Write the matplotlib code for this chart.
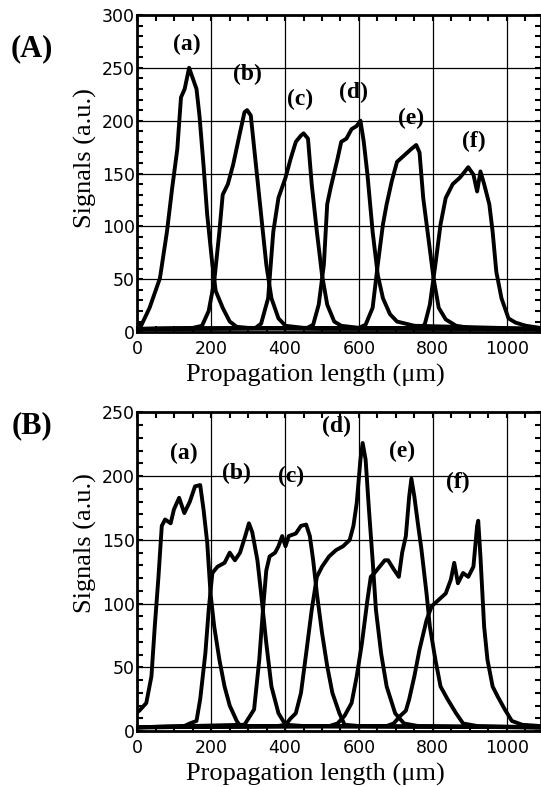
import matplotlib
matplotlib.use("Agg")
import matplotlib.pyplot as plt
from matplotlib.ticker import MultipleLocator

# ---------- DATA ----------
# panel (A): six signal profiles
A_x = {
    "a": [0, 10, 33, 61, 80, 94, 108, 118, 128, 140, 150, 160, 168, 179, 189, 203, 212, 231, 250, 269, 300, 500, 800, 1090],
    "b": [0, 150, 175, 193, 208, 222, 231, 245, 259, 278, 290, 297, 307, 321, 335, 349, 363, 382, 401, 450, 1090],
    "c": [0, 320, 335, 354, 368, 382, 401, 415, 429, 443, 450, 462, 472, 486, 500, 514, 533, 552, 600, 1090],
    "d": [0, 460, 476, 491, 505, 514, 523, 542, 552, 566, 580, 594, 604, 613, 623, 637, 651, 665, 684, 703, 750, 1090],
    "e": [0, 600, 618, 637, 651, 665, 675, 689, 703, 722, 741, 755, 764, 774, 788, 802, 816, 835, 863, 900, 1090],
    "f": [0, 760, 778, 792, 807, 821, 835, 854, 873, 887, 896, 910, 920, 929, 939, 953, 962, 972, 986, 1005, 1024, 1052, 1090],
}
A_y = {
    "a": [8, 6, 23, 51, 95, 136, 173, 222, 230, 250, 240, 230, 205, 158, 111, 64, 39, 23, 10, 5, 4, 3, 3, 3],
    "b": [3, 4, 6, 20, 48, 95, 130, 140, 158, 189, 208, 210, 205, 158, 111, 64, 32, 13, 6, 4, 3],
    "c": [3, 4, 8, 32, 95, 127, 146, 164, 180, 186, 188, 183, 140, 95, 54, 26, 10, 6, 4, 3],
    "d": [3, 4, 7, 26, 64, 121, 136, 164, 180, 183, 192, 195, 200, 180, 149, 95, 54, 32, 17, 10, 6, 3],
    "e": [3, 4, 7, 23, 64, 102, 121, 143, 161, 167, 173, 177, 170, 127, 89, 51, 23, 12, 6, 4, 3],
    "f": [3, 4, 7, 26, 64, 102, 127, 140, 146, 152, 156, 149, 133, 152, 140, 121, 95, 57, 32, 13, 9, 6, 4],
}
A_label_pos = {"a": (135, 272), "b": (297, 244), "c": (440, 220),
               "d": (585, 227), "e": (742, 202), "f": (912, 180)}

# panel (B)
B_x = {
    "a": [0, 5, 24, 38, 47, 57, 66, 75, 90, 99, 113, 127, 142, 156, 170, 179, 189, 198, 208, 222, 236, 250, 269, 278, 300, 1090],
    "b": [0, 127, 142, 160, 170, 184, 193, 203, 217, 236, 250, 264, 278, 292, 302, 311, 325, 335, 349, 363, 382, 401, 450, 1090],
    "c": [0, 290, 316, 330, 340, 349, 358, 373, 382, 392, 401, 410, 429, 443, 457, 467, 476, 486, 500, 514, 528, 547, 561, 600, 1090],
    "d": [0, 380, 401, 415, 429, 443, 457, 472, 486, 500, 519, 538, 557, 575, 585, 594, 604, 610, 618, 627, 637, 646, 660, 675, 698, 722, 760, 1090],
    "e": [0, 520, 542, 561, 580, 594, 608, 623, 632, 642, 656, 670, 679, 694, 708, 717, 727, 736, 742, 750, 759, 769, 783, 792, 807, 821, 840, 863, 882, 920, 1090],
    "f": [0, 675, 694, 712, 727, 736, 750, 764, 783, 797, 816, 835, 849, 858, 868, 882, 896, 910, 920, 923, 929, 939, 948, 962, 976, 995, 1014, 1042, 1090],
}
B_y = {
    "a": [15, 16, 22, 43, 82, 121, 161, 166, 163, 174, 183, 171, 180, 192, 193, 174, 148, 108, 82, 56, 35, 20, 8, 4, 4, 3],
    "b": [3, 4, 6, 8, 25, 61, 95, 124, 129, 132, 140, 134, 140, 153, 163, 156, 134, 108, 69, 35, 14, 5, 4, 3],
    "c": [3, 5, 17, 56, 95, 126, 137, 140, 145, 153, 145, 153, 155, 161, 162, 153, 134, 108, 77, 51, 30, 14, 5, 4, 3],
    "d": [3, 4, 5, 10, 14, 30, 61, 95, 121, 129, 137, 142, 145, 150, 161, 179, 213, 226, 213, 174, 134, 95, 61, 35, 14, 6, 4, 3],
    "e": [3, 4, 6, 12, 22, 43, 69, 103, 121, 124, 129, 134, 134, 127, 121, 140, 153, 184, 198, 184, 164, 143, 108, 82, 56, 35, 25, 14, 6, 4, 3],
    "f": [3, 4, 6, 12, 16, 25, 43, 64, 87, 98, 103, 108, 119, 132, 116, 124, 121, 129, 161, 165, 137, 82, 56, 35, 27, 17, 8, 5, 4],
}
B_label_pos = {"a": (125, 218), "b": (269, 202), "c": (415, 200),
               "d": (538, 239), "e": (717, 219), "f": (868, 195)}

x_ticks = [0, 200, 400, 600, 800, 1000]
A_yticks = [0, 50, 100, 150, 200, 250, 300]
B_yticks = [0, 50, 100, 150, 200, 250]

# ---------- STYLE ----------
serif = "Liberation Serif"
plt.rcParams["font.family"] = "DejaVu Sans"

fig = plt.figure(figsize=(5.41, 7.87), dpi=100)
axA = fig.add_axes([0.254, 0.578, 0.746, 0.403])
axB = fig.add_axes([0.254, 0.071, 0.746, 0.405])


def style_axes(ax, yticks, ymax):
    ax.set_xlim(0, 1093)
    ax.set_ylim(0, ymax)
    ax.set_xticks(x_ticks)
    ax.set_yticks(yticks)
    ax.xaxis.set_minor_locator(MultipleLocator(50))
    ax.yaxis.set_minor_locator(MultipleLocator(10))
    ax.tick_params(which="both", direction="in", top=True, right=True,
                   width=1.5, length=4, labelsize=12.5)
    ax.tick_params(axis="x", pad=6)
    ax.tick_params(axis="y", pad=2)
    ax.grid(True, which="major", color="black", linewidth=0.9)
    for sp in ax.spines.values():
        sp.set_linewidth(2)
    ax.set_xlabel("Propagation length (μm)", family=serif, fontsize=19)
    ax.set_ylabel("Signals (a.u.)", family=serif, fontsize=19)
    ax.xaxis.set_label_coords(0.44, -0.1)


# ---------- PLOT ----------
for k in A_x:
    axA.plot(A_x[k], A_y[k], color="black", linewidth=2.8)
    axA.text(*A_label_pos[k], f"({k})", family=serif, fontweight="bold",
             fontsize=17, ha="center", va="center")
style_axes(axA, A_yticks, 300)
axA.yaxis.set_label_coords(-0.1, 0.55)

for k in B_x:
    axB.plot(B_x[k], B_y[k], color="black", linewidth=2.8)
    axB.text(*B_label_pos[k], f"({k})", family=serif, fontweight="bold",
             fontsize=17, ha="center", va="center")
style_axes(axB, B_yticks, 250)
axB.yaxis.set_label_coords(-0.1, 0.59)

fig.text(0.059, 0.938, "(A)", family=serif, fontweight="bold", fontsize=22,
         ha="center", va="center")
fig.text(0.059, 0.459, "(B)", family=serif, fontweight="bold", fontsize=22,
         ha="center", va="center")

fig.savefig("out.png", dpi=100)
